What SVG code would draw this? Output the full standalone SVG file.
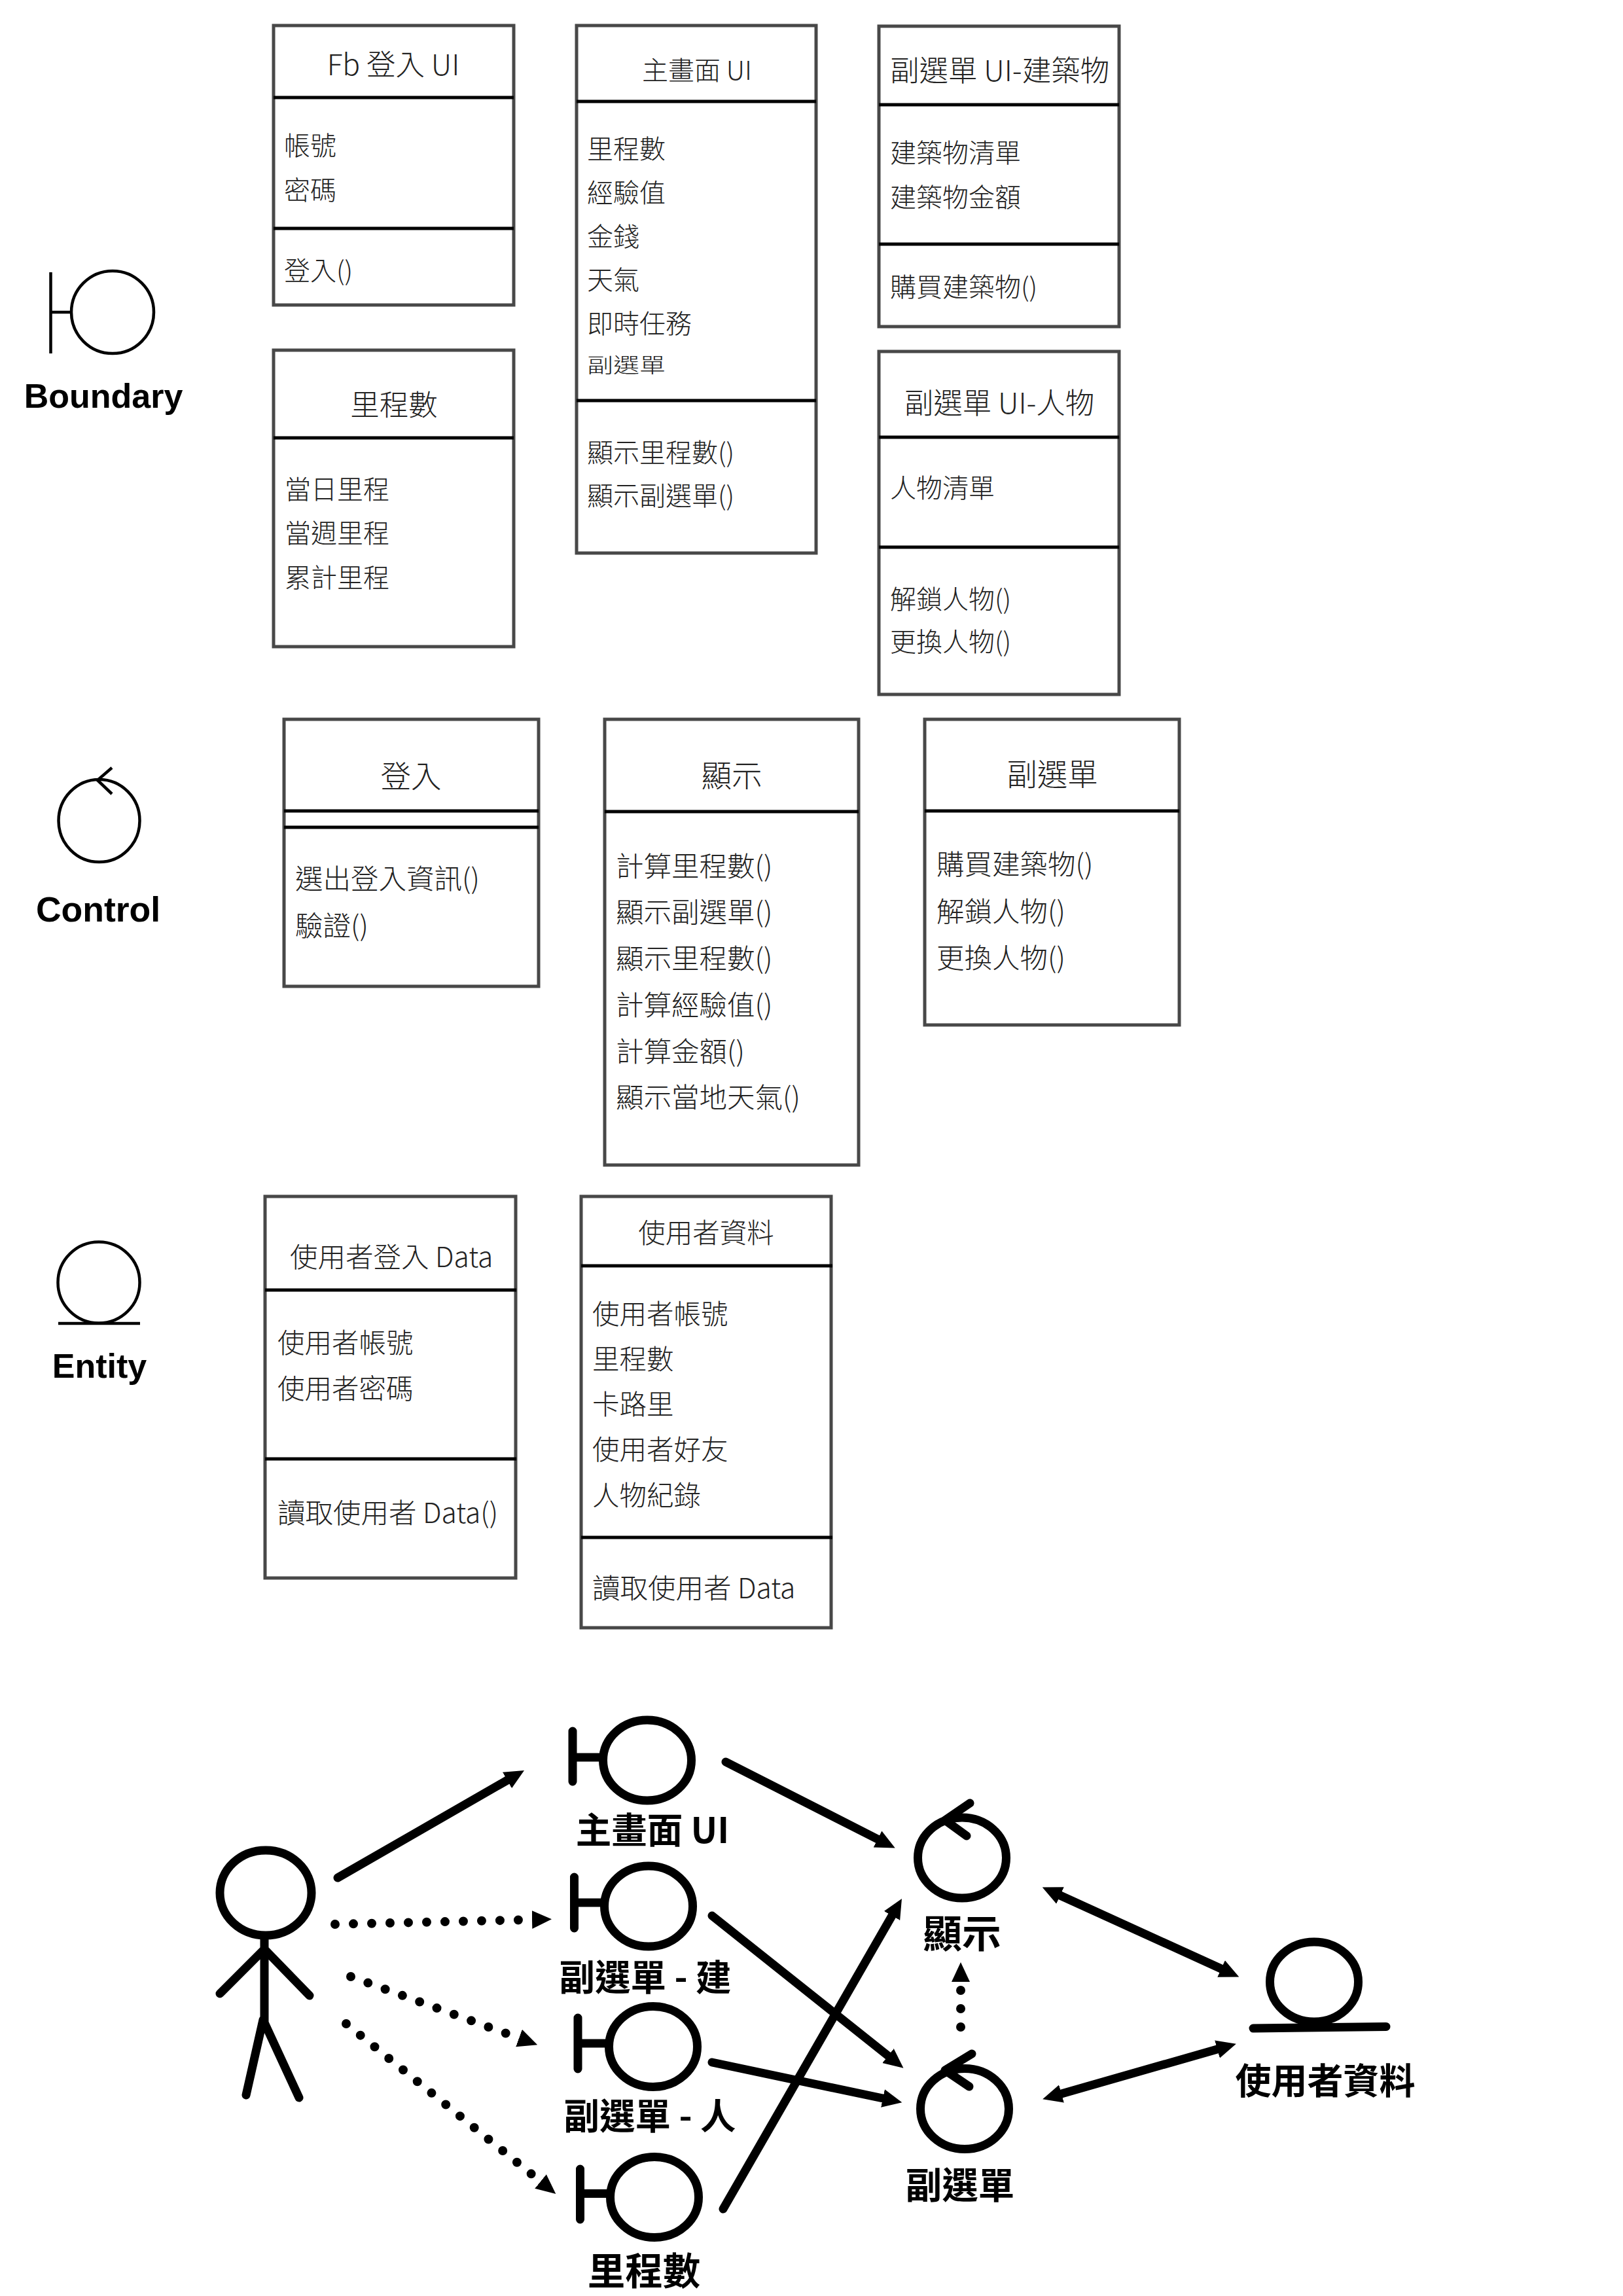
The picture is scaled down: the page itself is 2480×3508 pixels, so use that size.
<svg xmlns="http://www.w3.org/2000/svg" width="2480" height="3508" viewBox="0 0 2480 3508">
<style>
text{font-family:"Noto Sans CJK TC","Noto Sans CJK SC","Liberation Sans",sans-serif}
.box{fill:#fff;stroke:#484848;stroke-width:5}
.div{stroke:#000;stroke-width:5}
.t{font-size:40px;font-weight:300;fill:#222}
.tl{font-size:44.500px;font-weight:300;fill:#222}
.te{font-size:41.500px;font-weight:300;fill:#222}
.tc{font-size:42.500px;font-weight:300;fill:#222}
.th{font-size:46.500px;font-weight:300;fill:#222}
.m{text-anchor:middle}
.legend{font-family:"Liberation Sans",Arial,sans-serif;font-weight:700;font-size:52px;fill:#000;text-anchor:middle}
.sym{fill:none;stroke:#000;stroke-width:4.500}
.n{fill:none;stroke:#000;stroke-width:13;stroke-linecap:round;stroke-linejoin:round}
.lab{font-weight:700;font-size:54.500px;fill:#000;text-anchor:middle}
.c{fill:none;stroke:#000;stroke-width:13;stroke-linecap:round}
.solid{marker-end:url(#head)}
.both{marker-start:url(#head);marker-end:url(#head)}
.dot{stroke-width:14;stroke-dasharray:0 28;marker-end:url(#head)}
</style>
<defs>
<marker id="head" markerUnits="userSpaceOnUse" viewBox="0 0 30 30" markerWidth="30" markerHeight="30" refX="0" refY="15" orient="auto-start-reverse"><path d="M0 1L30 15L0 29z" fill="#000"/></marker>
</defs>
<rect width="2480" height="3508" fill="#fff"/>

<g id="legend-boundary"><circle class="sym" cx="172" cy="477" r="63"/><path class="sym" d="M77.500 416V540M77.500 477H109"/><text class="legend" x="158" y="623">Boundary</text></g>
<g id="legend-control"><ellipse class="sym" cx="151.500" cy="1254" rx="62" ry="63"/><path class="sym" d="M171 1173L149 1192L171 1213"/><text class="legend" x="150" y="1408" style="font-size:53.500px">Control</text></g>
<g id="legend-entity"><ellipse class="sym" cx="151" cy="1959.500" rx="62.500" ry="62"/><path class="sym" d="M89 2022H214"/><text class="legend" x="152" y="2105">Entity</text></g>

<g id="box-fb-login"><rect class="box" x="418" y="39" width="367" height="427"/><path class="div" d="M418 149H785M418 349H785"/>
<text class="tl m" x="601" y="115">Fb 登入 UI</text><text class="t" x="434" y="237">帳號</text><text class="t" x="434" y="305">密碼</text><text class="t" x="434" y="428">登入()</text></g>
<g id="box-mileage"><rect class="box" x="418" y="535" width="367" height="453"/><path class="div" d="M418 669H785"/>
<text class="tl m" x="602" y="635">里程數</text><text class="t" x="435" y="762">當日里程</text><text class="t" x="435" y="829">當週里程</text><text class="t" x="435" y="897">累計里程</text></g>
<g id="box-main-ui"><rect class="box" x="881" y="39" width="366" height="806"/><path class="div" d="M881 155H1247M881 612H1247"/>
<text class="t m" x="1065" y="122">主畫面 UI</text><text class="t" x="897" y="242">里程數</text><text class="t" x="897" y="309">經驗值</text><text class="t" x="897" y="376">金錢</text><text class="t" x="897" y="442">天氣</text><text class="t" x="897" y="509">即時任務</text><text class="t" transform="translate(897 569) scale(1 .78)">副選單</text><text class="t" x="897" y="706">顯示里程數()</text><text class="t" x="897" y="772">顯示副選單()</text></g>
<g id="box-submenu-building"><rect class="box" x="1343" y="40" width="367" height="459"/><path class="div" d="M1343 160H1710M1343 373H1710"/>
<text class="tl" x="1360" y="124">副選單 UI-建築物</text><text class="t" x="1360" y="248">建築物清單</text><text class="t" x="1360" y="316">建築物金額</text><text class="t" x="1360" y="453">購買建築物()</text></g>
<g id="box-submenu-person"><rect class="box" x="1343" y="537" width="367" height="524"/><path class="div" d="M1343 668H1710M1343 836H1710"/>
<text class="tl m" x="1527" y="632">副選單 UI-人物</text><text class="t" x="1360" y="760">人物清單</text><text class="t" x="1360" y="930">解鎖人物()</text><text class="t" x="1360" y="995">更換人物()</text></g>

<g id="box-login-ctrl"><rect class="box" x="434" y="1099" width="389" height="408"/><path class="div" d="M434 1239H823M434 1264H823"/>
<text class="th m" x="628" y="1203">登入</text><text class="tc" x="451" y="1358">選出登入資訊()</text><text class="tc" x="451" y="1430">驗證()</text></g>
<g id="box-display-ctrl"><rect class="box" x="924" y="1099" width="388" height="681"/><path class="div" d="M924 1240H1312"/>
<text class="th m" x="1118" y="1202">顯示</text><text class="tc" x="941" y="1339">計算里程數()</text><text class="tc" x="941" y="1409">顯示副選單()</text><text class="tc" x="941" y="1480">顯示里程數()</text><text class="tc" x="941" y="1551">計算經驗值()</text><text class="tc" x="941" y="1622">計算金額()</text><text class="tc" x="941" y="1692">顯示當地天氣()</text></g>
<g id="box-submenu-ctrl"><rect class="box" x="1413" y="1099" width="389" height="467"/><path class="div" d="M1413 1239H1802"/>
<text class="th m" x="1608" y="1200">副選單</text><text class="tc" x="1431" y="1336">購買建築物()</text><text class="tc" x="1431" y="1408">解鎖人物()</text><text class="tc" x="1431" y="1479">更換人物()</text></g>

<g id="box-login-data"><rect class="box" x="405" y="1828" width="383" height="583"/><path class="div" d="M405 1971H789M405 2229H789"/>
<text class="te" x="443" y="1936" style="font-size:42.500px">使用者登入 Data</text><text class="te" x="424" y="2067">使用者帳號</text><text class="te" x="424" y="2137">使用者密碼</text><text class="te" x="424" y="2327" style="font-size:42.500px">讀取使用者 Data()</text></g>
<g id="box-user-data"><rect class="box" x="888" y="1828" width="382" height="659"/><path class="div" d="M888 1934H1272M888 2349H1272"/>
<text class="te m" x="1079" y="1899">使用者資料</text><text class="te" x="905" y="2023">使用者帳號</text><text class="te" x="905" y="2092">里程數</text><text class="te" x="905" y="2161">卡路里</text><text class="te" x="905" y="2230">使用者好友</text><text class="te" x="905" y="2300">人物紀錄</text><text class="te" x="905" y="2442" style="font-size:42.500px">讀取使用者 Data</text></g>

<g id="connectors">
<path class="c solid" d="M516 2869L775 2720"/>
<path class="c dot" d="M512 2940L813 2933"/>
<path class="c dot" d="M536 3020L793 3114"/>
<path class="c dot" d="M529 3092L826 3333"/>
<path class="c solid" d="M1109 2692L1341 2810"/>
<path class="c solid" d="M1088 2927L1357 3141"/>
<path class="c solid" d="M1088 3151L1349 3206"/>
<path class="c solid" d="M1105 3375L1363 2927"/>
<path class="c both" d="M1620 2896L1866 3008"/>
<path class="c both" d="M1622 3199L1860 3131"/>
<path class="c dot" d="M1468 3097V3028"/>
</g>

<g id="actor"><ellipse class="n" cx="406" cy="2892" rx="70" ry="65"/><path class="n" d="M404 2963V3089M404 2978L336 3046M404 2978L473 3049M402 3086L376 3201M402 3086L457 3205"/></g>
<g id="node-main-ui"><ellipse class="n" cx="989" cy="2689.500" rx="67.500" ry="61.500"/><path class="n" d="M875 2645V2722M875 2685H921"/><text class="lab" x="997" y="2816">主畫面 UI</text></g>
<g id="node-submenu-b"><ellipse class="n" cx="991" cy="2912.500" rx="67.500" ry="61.500"/><path class="n" d="M877.500 2868V2946M877.500 2907H923"/><text class="lab" x="986" y="3041">副選單 - 建</text></g>
<g id="node-submenu-p"><ellipse class="n" cx="998" cy="3127" rx="67.500" ry="61.500"/><path class="n" d="M883 3083V3161M883 3122H930"/><text class="lab" x="993" y="3253">副選單 - 人</text></g>
<g id="node-mileage"><ellipse class="n" cx="1000" cy="3357" rx="67.500" ry="61.500"/><path class="n" d="M886.500 3314V3391M886.500 3351.500H932"/><text class="lab" x="984" y="3491" style="font-size:57.500px">里程數</text></g>
<g id="node-display"><ellipse class="n" cx="1470" cy="2838.500" rx="67.500" ry="61.500"/><path class="n" d="M1482 2755L1444 2781L1477 2805"/><text class="lab" x="1470" y="2976" style="font-size:59.500px">顯示</text></g>
<g id="node-submenu"><ellipse class="n" cx="1474" cy="3222" rx="67.500" ry="61.500"/><path class="n" d="M1485 3138L1444 3163L1481 3188"/><text class="lab" x="1467" y="3359" style="font-size:55.500px">副選單</text></g>
<g id="node-user"><ellipse class="n" cx="2008" cy="3028" rx="67.500" ry="61"/><path class="n" d="M1915 3099L2118 3096.500"/><text class="lab" x="2025" y="3199" style="font-size:55px">使用者資料</text></g>
</svg>
